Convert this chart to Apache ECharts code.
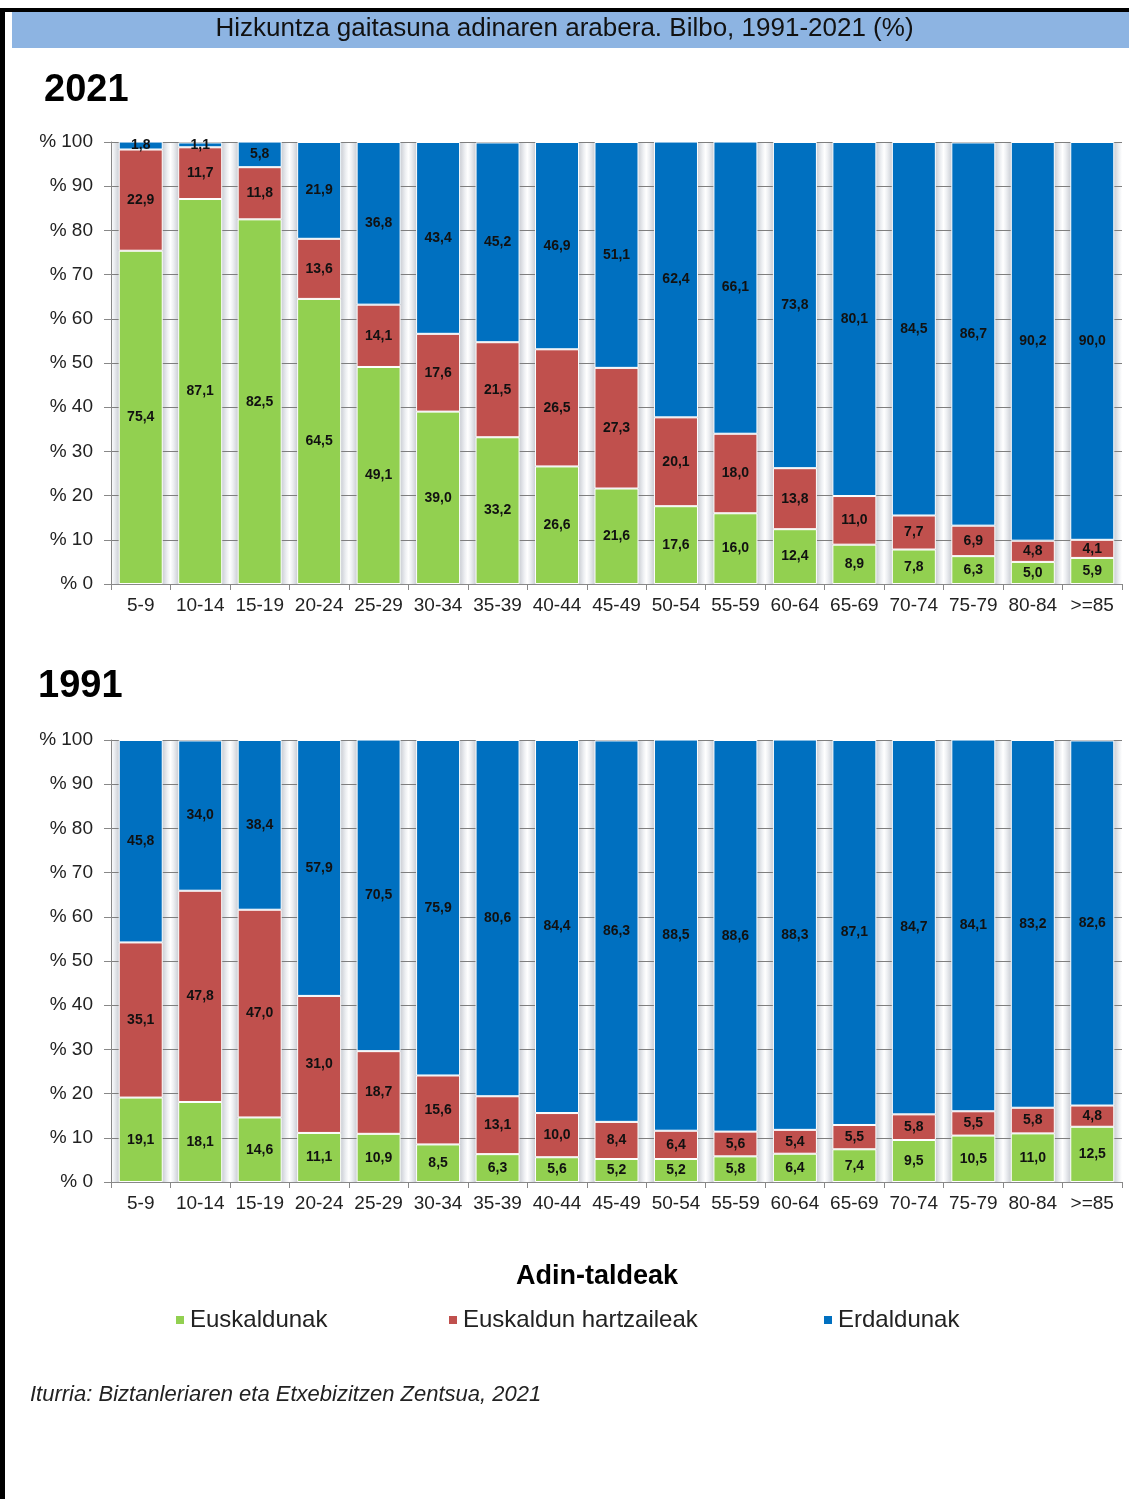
<!DOCTYPE html>
<html><head><meta charset="utf-8">
<script src="https://cdn.jsdelivr.net/npm/echarts@6/dist/echarts.min.js"></script>
<style>html,body{margin:0;padding:0;background:#fff}#c{width:1129px;height:1499px}</style>
</head><body><div id="c"></div>
<script>
const categories = ['5-9','10-14','15-19','20-24','25-29','30-34','35-39','40-44','45-49','50-54','55-59','60-64','65-69','70-74','75-79','80-84','>=85'];
const seriesNames = ['Euskaldunak','Euskaldun hartzaileak','Erdaldunak'];
const euskaldunak2021 = [75.4,87.1,82.5,64.5,49.1,39.0,33.2,26.6,21.6,17.6,16.0,12.4,8.9,7.8,6.3,5.0,5.9];
const hartzaileak2021 = [22.9,11.7,11.8,13.6,14.1,17.6,21.5,26.5,27.3,20.1,18.0,13.8,11.0,7.7,6.9,4.8,4.1];
const erdaldunak2021 = [1.8,1.1,5.8,21.9,36.8,43.4,45.2,46.9,51.1,62.4,66.1,73.8,80.1,84.5,86.7,90.2,90.0];
const euskaldunak1991 = [19.1,18.1,14.6,11.1,10.9,8.5,6.3,5.6,5.2,5.2,5.8,6.4,7.4,9.5,10.5,11.0,12.5];
const hartzaileak1991 = [35.1,47.8,47.0,31.0,18.7,15.6,13.1,10.0,8.4,6.4,5.6,5.4,5.5,5.8,5.5,5.8,4.8];
const erdaldunak1991 = [45.8,34.0,38.4,57.9,70.5,75.9,80.6,84.4,86.3,88.5,88.6,88.3,87.1,84.7,84.1,83.2,82.6];
const yMax = 100;

const colors = ['#92D050','#C0504D','#0070C0'];
const FONT = 'Liberation Sans, Arial, sans-serif';
const chart = echarts.init(document.getElementById('c'));

function grid(top){ return {left:111, right:7, top:top, height:442}; }
function xAxis(gi){
  return {type:'category', gridIndex:gi, data:categories, z:3,
    axisLine:{lineStyle:{color:'#888'}}, axisTick:{show:true, length:6, lineStyle:{color:'#888'}},
    axisLabel:{color:'#222', fontSize:19, fontFamily:FONT, margin:12, interval:0}};
}
function yAxis(gi){
  return {type:'value', gridIndex:gi, min:0, max:yMax, interval:10, z:3,
    axisLine:{show:true, lineStyle:{color:'#888'}}, axisTick:{show:true, length:7, lineStyle:{color:'#888'}},
    splitLine:{lineStyle:{color:'#7f7f7f', width:1}},
    axisLabel:{color:'#222', fontSize:19, fontFamily:FONT, margin:18, formatter:v=>'% '+v}};
}
function fmt(p){ return p.value.toFixed(1).replace('.',','); }
function bar(name, data, ci, gi){
  return {name:name, type:'bar', stack:'s'+gi, xAxisIndex:gi, yAxisIndex:gi, data:data,
    barCategoryGap:'26%', z:4,
    itemStyle:{color:colors[ci], borderColor:'#ffffff', borderWidth:1},
    label:{show:true, position:'inside', formatter:fmt, color:'#111', fontWeight:'bold', fontSize:14, fontFamily:FONT},
    emphasis:{disabled:true}};
}
const bgGradient = {type:'linear', x:0, y:0, x2:1, y2:0, global:false, colorStops:[
  {offset:0,color:'#ffffff'},{offset:0.05,color:'#eef0f3'},{offset:0.125,color:'#cfd2d8'},
  {offset:0.875,color:'#cfd2d8'},{offset:0.95,color:'#eef0f3'},{offset:1,color:'#ffffff'}]};
function bgSeries(gi){
  return {type:'custom', xAxisIndex:gi, yAxisIndex:gi, z:1, silent:true,
    data:categories.map((c,i)=>[i, yMax]),
    encode:{x:0, y:1},
    renderItem:function(params, api){
      const top = api.coord([api.value(0), api.value(1)]);
      const bottom = api.coord([api.value(0), 0]);
      const band = api.size([1, 0])[0];
      return {type:'rect', shape:{x:top[0]-band/2, y:top[1], width:band, height:bottom[1]-top[1]},
        style:{fill:bgGradient}};
    }};
}
function legend(name, left){
  return {data:[name], top:1303, left:left, icon:'rect', itemWidth:10, itemHeight:10, itemGap:4,
    textStyle:{fontSize:24, color:'#222', fontFamily:FONT}, selectedMode:false};
}

chart.setOption({
  animation:false,
  backgroundColor:'#ffffff',
  graphic:[
    {type:'rect', shape:{x:0, y:8, width:1129, height:4}, style:{fill:'#000'}},
    {type:'rect', shape:{x:0, y:8, width:5, height:1491}, style:{fill:'#000'}},
    {type:'rect', shape:{x:12, y:12, width:1117, height:36}, style:{fill:'#8DB4E2'}},
    {type:'text', left:'center', top:16, style:{text:'Hizkuntza gaitasuna adinaren arabera. Bilbo, 1991-2021 (%)', fontSize:26, fill:'#111', fontFamily:FONT}},
    {type:'text', left:44, top:72, style:{text:'2021', fontSize:38, fontWeight:'bold', fill:'#000', fontFamily:FONT}},
    {type:'text', left:38, top:668, style:{text:'1991', fontSize:38, fontWeight:'bold', fill:'#000', fontFamily:FONT}},
    {type:'text', left:516, top:1263, style:{text:'Adin-taldeak', fontSize:27, fontWeight:'bold', fill:'#000', fontFamily:FONT}},
    {type:'text', left:30, top:1384, style:{text:'Iturria: Biztanleriaren eta Etxebizitzen Zentsua, 2021', fontSize:22, fontStyle:'italic', fill:'#222', fontFamily:FONT}}
  ],
  legend:[legend(seriesNames[0],169), legend(seriesNames[1],442), legend(seriesNames[2],817)],
  grid:[grid(142), grid(740)],
  xAxis:[xAxis(0), xAxis(1)],
  yAxis:[yAxis(0), yAxis(1)],
  series:[
    bgSeries(0), bgSeries(1),
    bar(seriesNames[0], euskaldunak2021, 0, 0),
    bar(seriesNames[1], hartzaileak2021, 1, 0),
    bar(seriesNames[2], erdaldunak2021, 2, 0),
    bar(seriesNames[0], euskaldunak1991, 0, 1),
    bar(seriesNames[1], hartzaileak1991, 1, 1),
    bar(seriesNames[2], erdaldunak1991, 2, 1)
  ]
});
</script></body></html>
